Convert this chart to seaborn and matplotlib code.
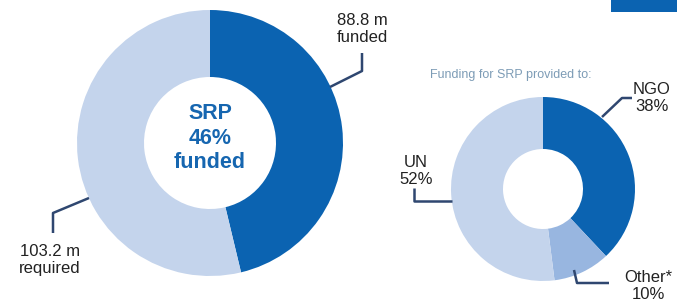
import matplotlib
matplotlib.use("Agg")
import matplotlib.pyplot as plt
import seaborn as sns

# ---- data ----
srp_labels = ["funded", "required"]
srp_values = [88.8, 103.2]
srp_texts = ["88.8 m\nfunded", "103.2 m\nrequired"]
center_text = "SRP\n46%\nfunded"

prov_labels = ["NGO", "Other*", "UN"]
prov_values = [38, 10, 52]
prov_texts = ["NGO\n38%", "Other*\n10%", "UN\n52%"]
prov_title = "Funding for SRP provided to:"

# ---- style ----
sns.set_theme(style="white")
plt.rcParams["font.family"] = ["Liberation Sans", "DejaVu Sans"]

DARK = "#0b63b1"
LIGHT = "#c4d4ec"
MID = "#98b6e0"
LINE = "#2f4770"
TXT = "#222222"

W, H = 677, 304
fig = plt.figure(figsize=(W / 100, H / 100), dpi=100)
ax = fig.add_axes([0, 0, 1, 1])

def Y(y):
    return H - y

# big donut
ax.pie(srp_values, colors=[DARK, LIGHT], startangle=90, counterclock=False,
       center=(210, Y(143)), radius=133,
       wedgeprops=dict(width=67, linewidth=0))
ax.text(210, Y(138), center_text, ha="center", va="center", color="#1666b0",
        fontsize=15.5, fontweight="bold", linespacing=1.2)

# small donut
ax.pie(prov_values, colors=[DARK, MID, LIGHT], startangle=90, counterclock=False,
       center=(543, Y(189)), radius=92,
       wedgeprops=dict(width=52, linewidth=0))
ax.text(511, Y(75), prov_title, ha="center", va="center", color="#7d9cb6",
        fontsize=9)

# leader lines
def leader(pts):
    xs = [p[0] for p in pts]
    ys = [Y(p[1]) for p in pts]
    ax.plot(xs, ys, color=LINE, lw=1.8, solid_capstyle="butt")

leader([(330, 87), (362, 71), (362, 53)])
leader([(89, 198), (53, 213), (53, 233)])
leader([(602, 117), (622, 98), (632, 98)])
leader([(452, 201), (414, 201), (414, 188)])
leader([(574, 270), (577, 283), (609, 283)])

# labels
lab_kw = dict(ha="center", va="center", color=TXT, fontsize=12, linespacing=1.2)
ax.text(362, Y(29), srp_texts[0], **lab_kw)
ax.text(50, Y(260), srp_texts[1], **lab_kw)
ax.text(652, Y(98), prov_texts[0], **lab_kw)
ax.text(648, Y(286), prov_texts[1], ha="center", va="center", color=TXT,
        fontsize=12, linespacing=1.1)
ax.text(416, Y(171), prov_texts[2], **lab_kw)

# corner box
ax.add_patch(plt.Rectangle((611, Y(12)), 80, 20, color=DARK, lw=0))

ax.set_xlim(0, W)
ax.set_ylim(0, H)
ax.set_aspect("equal")
ax.axis("off")
fig.savefig("out.png", dpi=100)
